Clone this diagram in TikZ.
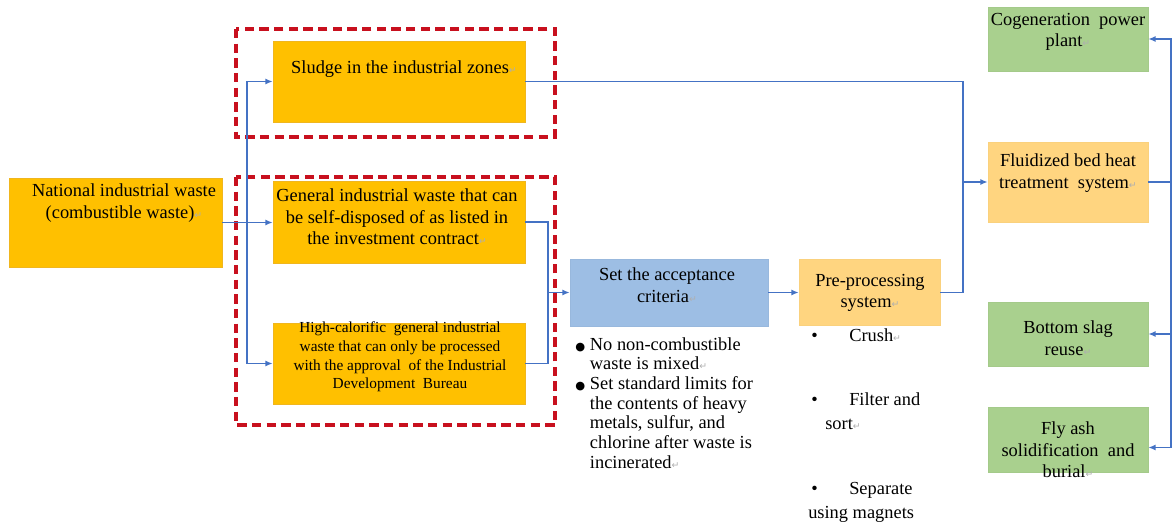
\documentclass[tikz,border=0pt]{standalone}
\usepackage{fontspec}
\setmainfont{Liberation Serif}
\newfontfamily\symfont{DejaVu Sans}
\usetikzlibrary{arrows.meta}
\definecolor{gold}{RGB}{255,192,0}
\definecolor{goldedge}{RGB}{240,182,30}
\definecolor{peach}{RGB}{255,213,128}
\definecolor{skyblue}{RGB}{157,190,228}
\definecolor{sage}{RGB}{169,208,142}
\definecolor{linkblue}{RGB}{68,114,196}
\definecolor{zonered}{RGB}{200,16,30}
\definecolor{markgray}{RGB}{175,175,175}
\newcommand{\ret}{{\symfont\color{markgray}\fontsize{7}{7}\selectfont ↵}}
\newcommand{\bigbul}{\makebox[11pt][l]{\symfont\fontsize{8.5}{8.5}\selectfont ●}}
\newcommand{\prebul}{\makebox[30.75pt][l]{\hspace{2.25pt}•}}
\tikzset{
	goldbox/.style={draw=goldedge, fill=gold, inner sep=0pt},
	peachbox/.style={draw=peach!90!black!20!peach, fill=peach, inner sep=0pt},
	bluebox/.style={draw=skyblue!85!black!20!skyblue, fill=skyblue, inner sep=0pt},
	sagebox/.style={draw=sage!85!black!20!sage, fill=sage, inner sep=0pt},
	txt/.style={black, align=center, inner sep=0pt, font=\fontsize{13.8}{16.2}\selectfont},
	smalltxt/.style={black, align=center, inner sep=0pt, font=\fontsize{11.5}{13.9}\selectfont},
	listtxt/.style={black, align=left, inner sep=0pt, font=\fontsize{13.8}{14.8}\selectfont},
	pretxt/.style={black, align=left, inner sep=0pt, font=\fontsize{13.8}{18}\selectfont},
	link/.style={draw=linkblue, line width=1.1pt},
	arr/.style={link, -{Latex[length=5.5pt,width=4.5pt]}},
	zone/.style={draw=zonered, line width=2.4pt, dash pattern=on 7pt off 4pt},
}
\begin{document}
\begin{tikzpicture}[x=0.75pt, y=-0.75pt]
	\useasboundingbox (0,0) rectangle (1172,527);
	\draw[zone] (236,29) rectangle (555,137);
	\draw[zone] (236,177) rectangle (555,425);
	\node[goldbox, minimum width=159.75pt, minimum height=66.75pt] (nat) at (115.5,222.5) {};
	\node[goldbox, minimum width=189pt, minimum height=60.75pt] (slu) at (399,81.5) {};
	\node[goldbox, minimum width=189pt, minimum height=61.5pt] (gen) at (399,222) {};
	\node[goldbox, minimum width=189pt, minimum height=60.75pt] (hic) at (399,363.5) {};
	\node[bluebox, minimum width=148.5pt, minimum height=50.25pt] (acc) at (669,292.5) {};
	\node[peachbox, minimum width=105.75pt, minimum height=49.5pt] (pre) at (869.5,292.5) {};
	\node[sagebox, minimum width=120pt, minimum height=48pt] (cog) at (1068,39) {};
	\node[peachbox, minimum width=120pt, minimum height=60pt] (flu) at (1068,182) {};
	\node[sagebox, minimum width=120pt, minimum height=48pt] (bot) at (1068,334) {};
	\node[sagebox, minimum width=120pt, minimum height=48.75pt] (fly) at (1068,439.5) {};
	\node[txt] (natt) at (124,203) {National industrial waste\\(combustible waste)\ret};
	\node[txt] (slut) at (404,69) {Sludge in the industrial zones\ret};
	\node[txt] (gent) at (397,217) {General industrial waste that can\\be self-disposed of as listed in\\the investment contract\ret};
	\node[smalltxt] (hict) at (400,357) {High-calorific\ \ general industrial\\waste that can only be processed\\with the approval\ \ of the Industrial\\Development\ \ Bureau};
	\node[txt] (acct) at (667,285) {Set the acceptance\\criteria\ret};
	\node[txt] (pret) at (870,293) {Pre-processing\\system\ret};
	\node[txt] (cogt) at (1068,32) {Cogeneration\ \ power\\plant\ret};
	\node[txt] (flut) at (1068,173) {Fluidized bed heat\\treatment\ \ system\ret};
	\node[txt] (bott) at (1068,338) {Bottom slag\\reuse\ret};
	\node[txt] (flyt) at (1068,450) {Fly ash\\solidification\ \ and\\burial\ret};
	\node[listtxt, anchor=north west] (accl) at (575,337) {\bigbul No non-combustible\\\hspace*{11pt}waste is mixed\ret\\\bigbul Set standard limits for\\\hspace*{11pt}the contents of heavy\\\hspace*{11pt}metals, sulfur, and\\\hspace*{11pt}chlorine after waste is\\\hspace*{11pt}incinerated\ret};
	\node[pretxt, anchor=west] (prel1) at (808,335) {\prebul Crush\ret};
	\node[pretxt, anchor=west] (prel2) at (808,411) {\prebul Filter and\\\hspace*{12.75pt}sort\ret};
	\node[pretxt, anchor=west] (prel3) at (808,502) {\prebul Separate\\using magnets};
	\coordinate (j1) at (247,222.5);
	\coordinate (j2) at (548,292.5);
	\coordinate (j3) at (963,182);
	\coordinate (j4) at (1171,182);
	\draw[arr] (nat.east) -- (nat.east -| gen.west);
	\draw[arr] (j1) |- (slu.west);
	\draw[arr] (j1) |- (hic.west);
	\draw[link] (gen.east) -| (j2);
	\draw[link] (hic.east) -| (j2);
	\draw[arr] (j2) -- (acc.west);
	\draw[arr] (acc.east) -- (acc.east -| pre.west);
	\draw[link] (slu.east) -| (j3);
	\draw[link] (pre.east) -| (j3);
	\draw[arr] (j3) -- (flu.west);
	\draw[link] (flu.east) -- (j4);
	\draw[arr] (j4) |- (cog.east);
	\draw[arr] (j4) |- (bot.east);
	\draw[arr] (j4) |- ([yshift=-6pt]fly.east);
\end{tikzpicture}
\end{document}
